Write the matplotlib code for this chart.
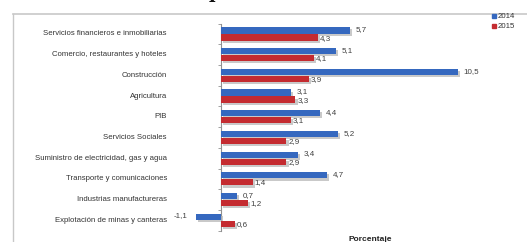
import matplotlib
matplotlib.use('Agg')
import matplotlib.pyplot as plt
import matplotlib.patheffects as pe
from matplotlib.lines import Line2D
import numpy as np

# datos
sectores = [
    'Servicios financieros e inmobiliarias',
    'Comercio, restaurantes y hoteles',
    'Construcción',
    'Agricultura',
    'PIB',
    'Servicios Sociales',
    'Suministro de electricidad, gas y agua',
    'Transporte y comunicaciones',
    'Industrias manufactureras',
    'Explotación de minas y canteras',
]
v2014 = [5.7, 5.1, 10.5, 3.1, 4.4, 5.2, 3.4, 4.7, 0.7, -1.1]
v2015 = [4.3, 4.1, 3.9, 3.3, 3.1, 2.9, 2.9, 1.4, 1.2, 0.6]
series = ['2014', '2015']

AZUL = '#3568bf'
ROJO = '#c42b30'
W, H = 527, 242

plt.rcParams['font.family'] = ['Liberation Sans Narrow', 'Liberation Sans', 'DejaVu Sans']

fig = plt.figure(figsize=(W / 100, H / 100), dpi=100)
ax = fig.add_axes([150 / W, 1 - 236 / H, 345 / W, 216 / H])

y = np.arange(len(sectores))
h = 0.3
sombra = [pe.SimplePatchShadow(offset=(1.5, -1.5), shadow_rgbFace='#b8b8b8', alpha=0.75), pe.Normal()]

b1 = ax.barh(y - 0.17, v2014, height=h, color=AZUL, zorder=3)
b2 = ax.barh(y + 0.17, v2015, height=h, color=ROJO, zorder=3)
for b in list(b1) + list(b2):
    b.set_path_effects(sombra)

fmt = lambda v: f'{v:.1f}'.replace('.', ',')
for yi, v in zip(y, v2014):
    if v >= 0:
        ax.annotate(fmt(v), (v, yi - 0.2), xytext=(4, 0), textcoords='offset points',
                    ha='left', va='center', fontsize=5.8, color='#404040')
    else:
        ax.annotate(fmt(v), (v, yi - 0.25), xytext=(-6, 0), textcoords='offset points',
                    ha='right', va='center', fontsize=5.8, color='#404040')
for yi, v in zip(y, v2015):
    ax.annotate(fmt(v), (v, yi + 0.2), xytext=(1.5, 0), textcoords='offset points',
                ha='left', va='center', fontsize=5.8, color='#404040')

# etiquetas de categoría
for yi, s in zip(y, sectores):
    ax.text(0.049, yi, s, transform=ax.get_yaxis_transform(), ha='right', va='center',
            fontsize=5.6, color='#333333')

ax.set_xlim((150 - 221) / 22.57, (495 - 221) / 22.57)
ax.set_ylim(9.76, -0.676)
for s in ['top', 'right', 'bottom']:
    ax.spines[s].set_visible(False)
ax.spines['left'].set_position(('data', 0))
ax.spines['left'].set_bounds(-0.5, 9.5)
ax.spines['left'].set_color('#909090')
ax.spines['left'].set_linewidth(0.8)
ax.set_xticks([])
ax.set_yticks(np.arange(-0.5, 10, 1))
ax.set_yticklabels([])
ax.tick_params(axis='y', length=2.5, width=0.6, color='#909090', direction='out')
ax.patch.set_visible(False)

# leyenda
handles = [Line2D([], [], marker='s', ls='', color=c, markersize=2.2) for c in (AZUL, ROJO)]
fig.legend(handles, series, loc='upper left', bbox_to_anchor=(488 / W, 1 - 9 / H),
           frameon=False, fontsize=5.6, handlelength=0.6, handletextpad=0.2,
           labelspacing=0.35, borderpad=0, labelcolor='#333333')

# marco
fig.add_artist(Line2D([13 / W, 1], [1 - 14 / H, 1 - 14 / H], color='#c8c8c8', lw=1.2))
fig.add_artist(Line2D([13 / W, 13 / W], [1 - 14 / H, 0], color='#c8c8c8', lw=1.0))

# textos recortados por el borde de la imagen
fig.text(215 / W, 1 + 2 / H, 'p', family='DejaVu Serif', fontweight='bold', fontsize=13,
         ha='center', va='baseline', color='#111111')
fig.text(370 / W, 1 - 236 / H, 'Porcentaje', fontweight='bold', fontsize=6,
         ha='center', va='top', color='#222222')

fig.savefig('out.png', dpi=100)
